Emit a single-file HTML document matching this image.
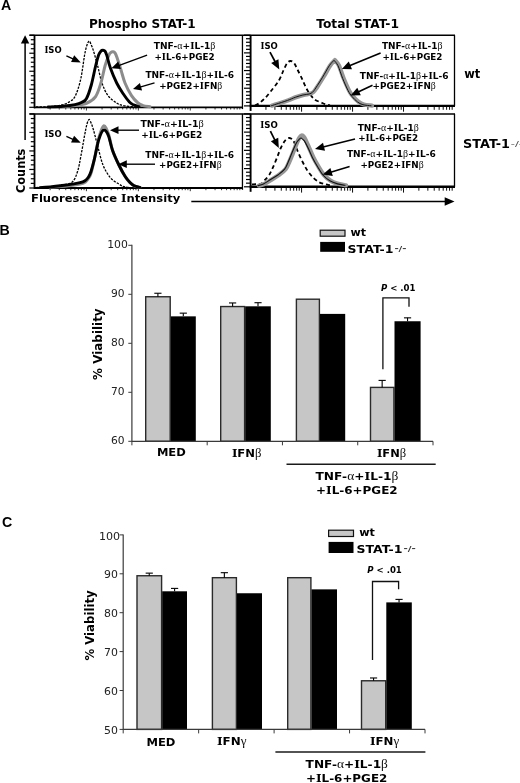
<!DOCTYPE html>
<html><head><meta charset="utf-8"><title>Figure</title>
<style>html,body{margin:0;padding:0;background:#fff}svg{display:block}</style></head>
<body><svg width="520" height="783" viewBox="0 0 520 783">
<rect width="520" height="783" fill="#fff"/>
<text x="0.9" y="10.4" font-family='"Liberation Sans","DejaVu Sans",sans-serif' font-size="14.2" font-weight="bold">A</text>
<text x="-0.6" y="234.8" font-family='"Liberation Sans","DejaVu Sans",sans-serif' font-size="14.2" font-weight="bold">B</text>
<text x="2.1" y="526.9" font-family='"Liberation Sans","DejaVu Sans",sans-serif' font-size="14.2" font-weight="bold">C</text>
<text transform="translate(88.9,27.5) scale(1.0066,1)" font-family='"DejaVu Sans","Liberation Sans",sans-serif' font-size="12" font-weight="bold" fill="#000" xml:space="preserve">Phospho STAT-1</text>
<text transform="translate(316.2,27.5) scale(1.0226,1)" font-family='"DejaVu Sans","Liberation Sans",sans-serif' font-size="12" font-weight="bold" fill="#000" xml:space="preserve">Total STAT-1</text>
<text transform="translate(464.2,77.7) scale(0.9984,1)" font-family='"DejaVu Sans","Liberation Sans",sans-serif' font-size="11.5" font-weight="bold" fill="#000" xml:space="preserve">wt</text>
<text transform="translate(463,148) scale(1.1249,1)" font-family='"DejaVu Sans","Liberation Sans",sans-serif' font-size="11.4" font-weight="bold" fill="#000" xml:space="preserve">STAT-1</text>
<text transform="translate(510.8,146) scale(1.5340,1)" font-family='"DejaVu Sans","Liberation Sans",sans-serif' font-size="7.5" font-weight="normal" fill="#444" xml:space="preserve">-/-</text>
<text transform="translate(31,201.9) scale(1.0422,1)" font-family='"DejaVu Sans","Liberation Sans",sans-serif' font-size="11.1" font-weight="bold" fill="#000" xml:space="preserve">Fluorescence <tspan font-family='"DejaVu Serif","Liberation Serif",serif'>I</tspan>ntensity</text>
<text transform="translate(24.6,193) rotate(-90) scale(0.9853,1)" font-family='"DejaVu Sans","Liberation Sans",sans-serif' font-size="11.5" font-weight="bold" fill="#000">Counts</text>
<line x1="25.1" y1="140" x2="25.1" y2="42.5" stroke="#000" stroke-width="1.5" />
<polygon points="25.1,35.2 29.3,43.5 20.9,43.5" fill="#000"/>
<line x1="191.3" y1="201.5" x2="445.7" y2="201.5" stroke="#000" stroke-width="1.3" />
<polygon points="454.5,201.5 444.7,205.8 444.7,197.2" fill="#000"/>
<line x1="29.5" y1="35.2" x2="455" y2="35.2" stroke="#000" stroke-width="1.5" />
<line x1="34.5" y1="35.2" x2="34.5" y2="108.3" stroke="#000" stroke-width="1.8" />
<line x1="34" y1="107.3" x2="242.7" y2="107.3" stroke="#000" stroke-width="1.8" />
<line x1="242.45" y1="35.2" x2="242.45" y2="109.1" stroke="#000" stroke-width="1.3" />
<line x1="29.3" y1="35.2" x2="34.5" y2="35.2" stroke="#000" stroke-width="1.2" />
<line x1="30.8" y1="39.71" x2="34.5" y2="39.71" stroke="#000" stroke-width="1.2" />
<line x1="30.8" y1="44.21" x2="34.5" y2="44.21" stroke="#000" stroke-width="1.2" />
<line x1="30.8" y1="48.72" x2="34.5" y2="48.72" stroke="#000" stroke-width="1.2" />
<line x1="29.3" y1="53.23" x2="34.5" y2="53.23" stroke="#000" stroke-width="1.2" />
<line x1="30.8" y1="57.73" x2="34.5" y2="57.73" stroke="#000" stroke-width="1.2" />
<line x1="30.8" y1="62.24" x2="34.5" y2="62.24" stroke="#000" stroke-width="1.2" />
<line x1="30.8" y1="66.74" x2="34.5" y2="66.74" stroke="#000" stroke-width="1.2" />
<line x1="29.3" y1="71.25" x2="34.5" y2="71.25" stroke="#000" stroke-width="1.2" />
<line x1="30.8" y1="75.76" x2="34.5" y2="75.76" stroke="#000" stroke-width="1.2" />
<line x1="30.8" y1="80.26" x2="34.5" y2="80.26" stroke="#000" stroke-width="1.2" />
<line x1="30.8" y1="84.77" x2="34.5" y2="84.77" stroke="#000" stroke-width="1.2" />
<line x1="29.3" y1="89.28" x2="34.5" y2="89.28" stroke="#000" stroke-width="1.2" />
<line x1="30.8" y1="93.78" x2="34.5" y2="93.78" stroke="#000" stroke-width="1.2" />
<line x1="30.8" y1="98.29" x2="34.5" y2="98.29" stroke="#000" stroke-width="1.2" />
<line x1="30.8" y1="102.79" x2="34.5" y2="102.79" stroke="#000" stroke-width="1.2" />
<line x1="29.3" y1="107.3" x2="34.5" y2="107.3" stroke="#000" stroke-width="1.2" />
<line x1="50.13" y1="107.3" x2="50.13" y2="109.5" stroke="#000" stroke-width="0.8" />
<line x1="59.27" y1="107.3" x2="59.27" y2="109.5" stroke="#000" stroke-width="0.8" />
<line x1="65.76" y1="107.3" x2="65.76" y2="109.5" stroke="#000" stroke-width="0.8" />
<line x1="70.79" y1="107.3" x2="70.79" y2="109.5" stroke="#000" stroke-width="0.8" />
<line x1="74.91" y1="107.3" x2="74.91" y2="109.5" stroke="#000" stroke-width="0.8" />
<line x1="78.38" y1="107.3" x2="78.38" y2="109.5" stroke="#000" stroke-width="0.8" />
<line x1="81.39" y1="107.3" x2="81.39" y2="109.5" stroke="#000" stroke-width="0.8" />
<line x1="84.05" y1="107.3" x2="84.05" y2="109.5" stroke="#000" stroke-width="0.8" />
<line x1="86.42" y1="107.3" x2="86.42" y2="110.5" stroke="#000" stroke-width="0.8" />
<line x1="102.06" y1="107.3" x2="102.06" y2="109.5" stroke="#000" stroke-width="0.8" />
<line x1="111.2" y1="107.3" x2="111.2" y2="109.5" stroke="#000" stroke-width="0.8" />
<line x1="117.69" y1="107.3" x2="117.69" y2="109.5" stroke="#000" stroke-width="0.8" />
<line x1="122.72" y1="107.3" x2="122.72" y2="109.5" stroke="#000" stroke-width="0.8" />
<line x1="126.83" y1="107.3" x2="126.83" y2="109.5" stroke="#000" stroke-width="0.8" />
<line x1="130.31" y1="107.3" x2="130.31" y2="109.5" stroke="#000" stroke-width="0.8" />
<line x1="133.32" y1="107.3" x2="133.32" y2="109.5" stroke="#000" stroke-width="0.8" />
<line x1="135.97" y1="107.3" x2="135.97" y2="109.5" stroke="#000" stroke-width="0.8" />
<line x1="138.35" y1="107.3" x2="138.35" y2="110.5" stroke="#000" stroke-width="0.8" />
<line x1="153.98" y1="107.3" x2="153.98" y2="109.5" stroke="#000" stroke-width="0.8" />
<line x1="163.12" y1="107.3" x2="163.12" y2="109.5" stroke="#000" stroke-width="0.8" />
<line x1="169.61" y1="107.3" x2="169.61" y2="109.5" stroke="#000" stroke-width="0.8" />
<line x1="174.64" y1="107.3" x2="174.64" y2="109.5" stroke="#000" stroke-width="0.8" />
<line x1="178.76" y1="107.3" x2="178.76" y2="109.5" stroke="#000" stroke-width="0.8" />
<line x1="182.23" y1="107.3" x2="182.23" y2="109.5" stroke="#000" stroke-width="0.8" />
<line x1="185.24" y1="107.3" x2="185.24" y2="109.5" stroke="#000" stroke-width="0.8" />
<line x1="187.9" y1="107.3" x2="187.9" y2="109.5" stroke="#000" stroke-width="0.8" />
<line x1="190.27" y1="107.3" x2="190.27" y2="110.5" stroke="#000" stroke-width="0.8" />
<line x1="205.91" y1="107.3" x2="205.91" y2="109.5" stroke="#000" stroke-width="0.8" />
<line x1="215.05" y1="107.3" x2="215.05" y2="109.5" stroke="#000" stroke-width="0.8" />
<line x1="221.54" y1="107.3" x2="221.54" y2="109.5" stroke="#000" stroke-width="0.8" />
<line x1="226.57" y1="107.3" x2="226.57" y2="109.5" stroke="#000" stroke-width="0.8" />
<line x1="230.68" y1="107.3" x2="230.68" y2="109.5" stroke="#000" stroke-width="0.8" />
<line x1="234.16" y1="107.3" x2="234.16" y2="109.5" stroke="#000" stroke-width="0.8" />
<line x1="237.17" y1="107.3" x2="237.17" y2="109.5" stroke="#000" stroke-width="0.8" />
<line x1="239.82" y1="107.3" x2="239.82" y2="109.5" stroke="#000" stroke-width="0.8" />
<line x1="250.6" y1="35.2" x2="250.6" y2="110.9" stroke="#000" stroke-width="1.9" />
<line x1="249.7" y1="105.9" x2="455" y2="105.9" stroke="#000" stroke-width="2.4" />
<line x1="454.5" y1="35.2" x2="454.5" y2="105.9" stroke="#000" stroke-width="1.3" />
<line x1="244" y1="35.2" x2="250.6" y2="35.2" stroke="#000" stroke-width="1.2" />
<line x1="246" y1="38.73" x2="250.6" y2="38.73" stroke="#000" stroke-width="1.2" />
<line x1="246" y1="42.27" x2="250.6" y2="42.27" stroke="#000" stroke-width="1.2" />
<line x1="246" y1="45.81" x2="250.6" y2="45.81" stroke="#000" stroke-width="1.2" />
<line x1="246" y1="49.34" x2="250.6" y2="49.34" stroke="#000" stroke-width="1.2" />
<line x1="244" y1="52.88" x2="250.6" y2="52.88" stroke="#000" stroke-width="1.2" />
<line x1="246" y1="56.41" x2="250.6" y2="56.41" stroke="#000" stroke-width="1.2" />
<line x1="246" y1="59.95" x2="250.6" y2="59.95" stroke="#000" stroke-width="1.2" />
<line x1="246" y1="63.48" x2="250.6" y2="63.48" stroke="#000" stroke-width="1.2" />
<line x1="246" y1="67.02" x2="250.6" y2="67.02" stroke="#000" stroke-width="1.2" />
<line x1="244" y1="70.55" x2="250.6" y2="70.55" stroke="#000" stroke-width="1.2" />
<line x1="246" y1="74.09" x2="250.6" y2="74.09" stroke="#000" stroke-width="1.2" />
<line x1="246" y1="77.62" x2="250.6" y2="77.62" stroke="#000" stroke-width="1.2" />
<line x1="246" y1="81.16" x2="250.6" y2="81.16" stroke="#000" stroke-width="1.2" />
<line x1="246" y1="84.69" x2="250.6" y2="84.69" stroke="#000" stroke-width="1.2" />
<line x1="244" y1="88.22" x2="250.6" y2="88.22" stroke="#000" stroke-width="1.2" />
<line x1="246" y1="91.76" x2="250.6" y2="91.76" stroke="#000" stroke-width="1.2" />
<line x1="246" y1="95.3" x2="250.6" y2="95.3" stroke="#000" stroke-width="1.2" />
<line x1="246" y1="98.83" x2="250.6" y2="98.83" stroke="#000" stroke-width="1.2" />
<line x1="246" y1="102.36" x2="250.6" y2="102.36" stroke="#000" stroke-width="1.2" />
<line x1="244" y1="105.9" x2="250.6" y2="105.9" stroke="#000" stroke-width="1.2" />
<line x1="265.95" y1="106.4" x2="265.95" y2="109.8" stroke="#000" stroke-width="0.95" />
<line x1="274.92" y1="106.4" x2="274.92" y2="109.8" stroke="#000" stroke-width="0.95" />
<line x1="281.29" y1="106.4" x2="281.29" y2="109.8" stroke="#000" stroke-width="0.95" />
<line x1="286.23" y1="106.4" x2="286.23" y2="109.8" stroke="#000" stroke-width="0.95" />
<line x1="290.27" y1="106.4" x2="290.27" y2="109.8" stroke="#000" stroke-width="0.95" />
<line x1="293.68" y1="106.4" x2="293.68" y2="109.8" stroke="#000" stroke-width="0.95" />
<line x1="296.64" y1="106.4" x2="296.64" y2="109.8" stroke="#000" stroke-width="0.95" />
<line x1="299.24" y1="106.4" x2="299.24" y2="109.8" stroke="#000" stroke-width="0.95" />
<line x1="301.57" y1="106.4" x2="301.57" y2="111.7" stroke="#000" stroke-width="0.95" />
<line x1="316.92" y1="106.4" x2="316.92" y2="109.8" stroke="#000" stroke-width="0.95" />
<line x1="325.9" y1="106.4" x2="325.9" y2="109.8" stroke="#000" stroke-width="0.95" />
<line x1="332.27" y1="106.4" x2="332.27" y2="109.8" stroke="#000" stroke-width="0.95" />
<line x1="337.2" y1="106.4" x2="337.2" y2="109.8" stroke="#000" stroke-width="0.95" />
<line x1="341.24" y1="106.4" x2="341.24" y2="109.8" stroke="#000" stroke-width="0.95" />
<line x1="344.65" y1="106.4" x2="344.65" y2="109.8" stroke="#000" stroke-width="0.95" />
<line x1="347.61" y1="106.4" x2="347.61" y2="109.8" stroke="#000" stroke-width="0.95" />
<line x1="350.22" y1="106.4" x2="350.22" y2="109.8" stroke="#000" stroke-width="0.95" />
<line x1="352.55" y1="106.4" x2="352.55" y2="111.7" stroke="#000" stroke-width="0.95" />
<line x1="367.9" y1="106.4" x2="367.9" y2="109.8" stroke="#000" stroke-width="0.95" />
<line x1="376.87" y1="106.4" x2="376.87" y2="109.8" stroke="#000" stroke-width="0.95" />
<line x1="383.24" y1="106.4" x2="383.24" y2="109.8" stroke="#000" stroke-width="0.95" />
<line x1="388.18" y1="106.4" x2="388.18" y2="109.8" stroke="#000" stroke-width="0.95" />
<line x1="392.22" y1="106.4" x2="392.22" y2="109.8" stroke="#000" stroke-width="0.95" />
<line x1="395.63" y1="106.4" x2="395.63" y2="109.8" stroke="#000" stroke-width="0.95" />
<line x1="398.59" y1="106.4" x2="398.59" y2="109.8" stroke="#000" stroke-width="0.95" />
<line x1="401.19" y1="106.4" x2="401.19" y2="109.8" stroke="#000" stroke-width="0.95" />
<line x1="403.52" y1="106.4" x2="403.52" y2="111.7" stroke="#000" stroke-width="0.95" />
<line x1="418.87" y1="106.4" x2="418.87" y2="109.8" stroke="#000" stroke-width="0.95" />
<line x1="427.85" y1="106.4" x2="427.85" y2="109.8" stroke="#000" stroke-width="0.95" />
<line x1="434.22" y1="106.4" x2="434.22" y2="109.8" stroke="#000" stroke-width="0.95" />
<line x1="439.15" y1="106.4" x2="439.15" y2="109.8" stroke="#000" stroke-width="0.95" />
<line x1="443.19" y1="106.4" x2="443.19" y2="109.8" stroke="#000" stroke-width="0.95" />
<line x1="446.6" y1="106.4" x2="446.6" y2="109.8" stroke="#000" stroke-width="0.95" />
<line x1="449.56" y1="106.4" x2="449.56" y2="109.8" stroke="#000" stroke-width="0.95" />
<line x1="452.17" y1="106.4" x2="452.17" y2="109.8" stroke="#000" stroke-width="0.95" />
<line x1="29.5" y1="113.9" x2="455" y2="113.9" stroke="#000" stroke-width="1.5" />
<line x1="34.5" y1="113.9" x2="34.5" y2="189" stroke="#000" stroke-width="1.8" />
<line x1="34" y1="188" x2="242.7" y2="188" stroke="#000" stroke-width="1.8" />
<line x1="242.45" y1="113.9" x2="242.45" y2="189.8" stroke="#000" stroke-width="1.3" />
<line x1="29.3" y1="113.9" x2="34.5" y2="113.9" stroke="#000" stroke-width="1.2" />
<line x1="30.8" y1="118.53" x2="34.5" y2="118.53" stroke="#000" stroke-width="1.2" />
<line x1="30.8" y1="123.16" x2="34.5" y2="123.16" stroke="#000" stroke-width="1.2" />
<line x1="30.8" y1="127.79" x2="34.5" y2="127.79" stroke="#000" stroke-width="1.2" />
<line x1="29.3" y1="132.43" x2="34.5" y2="132.43" stroke="#000" stroke-width="1.2" />
<line x1="30.8" y1="137.06" x2="34.5" y2="137.06" stroke="#000" stroke-width="1.2" />
<line x1="30.8" y1="141.69" x2="34.5" y2="141.69" stroke="#000" stroke-width="1.2" />
<line x1="30.8" y1="146.32" x2="34.5" y2="146.32" stroke="#000" stroke-width="1.2" />
<line x1="29.3" y1="150.95" x2="34.5" y2="150.95" stroke="#000" stroke-width="1.2" />
<line x1="30.8" y1="155.58" x2="34.5" y2="155.58" stroke="#000" stroke-width="1.2" />
<line x1="30.8" y1="160.21" x2="34.5" y2="160.21" stroke="#000" stroke-width="1.2" />
<line x1="30.8" y1="164.84" x2="34.5" y2="164.84" stroke="#000" stroke-width="1.2" />
<line x1="29.3" y1="169.47" x2="34.5" y2="169.47" stroke="#000" stroke-width="1.2" />
<line x1="30.8" y1="174.11" x2="34.5" y2="174.11" stroke="#000" stroke-width="1.2" />
<line x1="30.8" y1="178.74" x2="34.5" y2="178.74" stroke="#000" stroke-width="1.2" />
<line x1="30.8" y1="183.37" x2="34.5" y2="183.37" stroke="#000" stroke-width="1.2" />
<line x1="29.3" y1="188" x2="34.5" y2="188" stroke="#000" stroke-width="1.2" />
<line x1="50.13" y1="188" x2="50.13" y2="190.2" stroke="#000" stroke-width="0.8" />
<line x1="59.27" y1="188" x2="59.27" y2="190.2" stroke="#000" stroke-width="0.8" />
<line x1="65.76" y1="188" x2="65.76" y2="190.2" stroke="#000" stroke-width="0.8" />
<line x1="70.79" y1="188" x2="70.79" y2="190.2" stroke="#000" stroke-width="0.8" />
<line x1="74.91" y1="188" x2="74.91" y2="190.2" stroke="#000" stroke-width="0.8" />
<line x1="78.38" y1="188" x2="78.38" y2="190.2" stroke="#000" stroke-width="0.8" />
<line x1="81.39" y1="188" x2="81.39" y2="190.2" stroke="#000" stroke-width="0.8" />
<line x1="84.05" y1="188" x2="84.05" y2="190.2" stroke="#000" stroke-width="0.8" />
<line x1="86.42" y1="188" x2="86.42" y2="191.2" stroke="#000" stroke-width="0.8" />
<line x1="102.06" y1="188" x2="102.06" y2="190.2" stroke="#000" stroke-width="0.8" />
<line x1="111.2" y1="188" x2="111.2" y2="190.2" stroke="#000" stroke-width="0.8" />
<line x1="117.69" y1="188" x2="117.69" y2="190.2" stroke="#000" stroke-width="0.8" />
<line x1="122.72" y1="188" x2="122.72" y2="190.2" stroke="#000" stroke-width="0.8" />
<line x1="126.83" y1="188" x2="126.83" y2="190.2" stroke="#000" stroke-width="0.8" />
<line x1="130.31" y1="188" x2="130.31" y2="190.2" stroke="#000" stroke-width="0.8" />
<line x1="133.32" y1="188" x2="133.32" y2="190.2" stroke="#000" stroke-width="0.8" />
<line x1="135.97" y1="188" x2="135.97" y2="190.2" stroke="#000" stroke-width="0.8" />
<line x1="138.35" y1="188" x2="138.35" y2="191.2" stroke="#000" stroke-width="0.8" />
<line x1="153.98" y1="188" x2="153.98" y2="190.2" stroke="#000" stroke-width="0.8" />
<line x1="163.12" y1="188" x2="163.12" y2="190.2" stroke="#000" stroke-width="0.8" />
<line x1="169.61" y1="188" x2="169.61" y2="190.2" stroke="#000" stroke-width="0.8" />
<line x1="174.64" y1="188" x2="174.64" y2="190.2" stroke="#000" stroke-width="0.8" />
<line x1="178.76" y1="188" x2="178.76" y2="190.2" stroke="#000" stroke-width="0.8" />
<line x1="182.23" y1="188" x2="182.23" y2="190.2" stroke="#000" stroke-width="0.8" />
<line x1="185.24" y1="188" x2="185.24" y2="190.2" stroke="#000" stroke-width="0.8" />
<line x1="187.9" y1="188" x2="187.9" y2="190.2" stroke="#000" stroke-width="0.8" />
<line x1="190.27" y1="188" x2="190.27" y2="191.2" stroke="#000" stroke-width="0.8" />
<line x1="205.91" y1="188" x2="205.91" y2="190.2" stroke="#000" stroke-width="0.8" />
<line x1="215.05" y1="188" x2="215.05" y2="190.2" stroke="#000" stroke-width="0.8" />
<line x1="221.54" y1="188" x2="221.54" y2="190.2" stroke="#000" stroke-width="0.8" />
<line x1="226.57" y1="188" x2="226.57" y2="190.2" stroke="#000" stroke-width="0.8" />
<line x1="230.68" y1="188" x2="230.68" y2="190.2" stroke="#000" stroke-width="0.8" />
<line x1="234.16" y1="188" x2="234.16" y2="190.2" stroke="#000" stroke-width="0.8" />
<line x1="237.17" y1="188" x2="237.17" y2="190.2" stroke="#000" stroke-width="0.8" />
<line x1="239.82" y1="188" x2="239.82" y2="190.2" stroke="#000" stroke-width="0.8" />
<line x1="250.6" y1="113.9" x2="250.6" y2="191.8" stroke="#000" stroke-width="1.9" />
<line x1="249.7" y1="186.8" x2="455" y2="186.8" stroke="#000" stroke-width="2.4" />
<line x1="454.5" y1="113.9" x2="454.5" y2="186.8" stroke="#000" stroke-width="1.3" />
<line x1="244" y1="113.9" x2="250.6" y2="113.9" stroke="#000" stroke-width="1.2" />
<line x1="246" y1="117.55" x2="250.6" y2="117.55" stroke="#000" stroke-width="1.2" />
<line x1="246" y1="121.19" x2="250.6" y2="121.19" stroke="#000" stroke-width="1.2" />
<line x1="246" y1="124.84" x2="250.6" y2="124.84" stroke="#000" stroke-width="1.2" />
<line x1="246" y1="128.48" x2="250.6" y2="128.48" stroke="#000" stroke-width="1.2" />
<line x1="244" y1="132.12" x2="250.6" y2="132.12" stroke="#000" stroke-width="1.2" />
<line x1="246" y1="135.77" x2="250.6" y2="135.77" stroke="#000" stroke-width="1.2" />
<line x1="246" y1="139.42" x2="250.6" y2="139.42" stroke="#000" stroke-width="1.2" />
<line x1="246" y1="143.06" x2="250.6" y2="143.06" stroke="#000" stroke-width="1.2" />
<line x1="246" y1="146.71" x2="250.6" y2="146.71" stroke="#000" stroke-width="1.2" />
<line x1="244" y1="150.35" x2="250.6" y2="150.35" stroke="#000" stroke-width="1.2" />
<line x1="246" y1="154" x2="250.6" y2="154" stroke="#000" stroke-width="1.2" />
<line x1="246" y1="157.64" x2="250.6" y2="157.64" stroke="#000" stroke-width="1.2" />
<line x1="246" y1="161.29" x2="250.6" y2="161.29" stroke="#000" stroke-width="1.2" />
<line x1="246" y1="164.93" x2="250.6" y2="164.93" stroke="#000" stroke-width="1.2" />
<line x1="244" y1="168.57" x2="250.6" y2="168.57" stroke="#000" stroke-width="1.2" />
<line x1="246" y1="172.22" x2="250.6" y2="172.22" stroke="#000" stroke-width="1.2" />
<line x1="246" y1="175.87" x2="250.6" y2="175.87" stroke="#000" stroke-width="1.2" />
<line x1="246" y1="179.51" x2="250.6" y2="179.51" stroke="#000" stroke-width="1.2" />
<line x1="246" y1="183.16" x2="250.6" y2="183.16" stroke="#000" stroke-width="1.2" />
<line x1="244" y1="186.8" x2="250.6" y2="186.8" stroke="#000" stroke-width="1.2" />
<line x1="265.95" y1="187.3" x2="265.95" y2="190.7" stroke="#000" stroke-width="0.95" />
<line x1="274.92" y1="187.3" x2="274.92" y2="190.7" stroke="#000" stroke-width="0.95" />
<line x1="281.29" y1="187.3" x2="281.29" y2="190.7" stroke="#000" stroke-width="0.95" />
<line x1="286.23" y1="187.3" x2="286.23" y2="190.7" stroke="#000" stroke-width="0.95" />
<line x1="290.27" y1="187.3" x2="290.27" y2="190.7" stroke="#000" stroke-width="0.95" />
<line x1="293.68" y1="187.3" x2="293.68" y2="190.7" stroke="#000" stroke-width="0.95" />
<line x1="296.64" y1="187.3" x2="296.64" y2="190.7" stroke="#000" stroke-width="0.95" />
<line x1="299.24" y1="187.3" x2="299.24" y2="190.7" stroke="#000" stroke-width="0.95" />
<line x1="301.57" y1="187.3" x2="301.57" y2="192.6" stroke="#000" stroke-width="0.95" />
<line x1="316.92" y1="187.3" x2="316.92" y2="190.7" stroke="#000" stroke-width="0.95" />
<line x1="325.9" y1="187.3" x2="325.9" y2="190.7" stroke="#000" stroke-width="0.95" />
<line x1="332.27" y1="187.3" x2="332.27" y2="190.7" stroke="#000" stroke-width="0.95" />
<line x1="337.2" y1="187.3" x2="337.2" y2="190.7" stroke="#000" stroke-width="0.95" />
<line x1="341.24" y1="187.3" x2="341.24" y2="190.7" stroke="#000" stroke-width="0.95" />
<line x1="344.65" y1="187.3" x2="344.65" y2="190.7" stroke="#000" stroke-width="0.95" />
<line x1="347.61" y1="187.3" x2="347.61" y2="190.7" stroke="#000" stroke-width="0.95" />
<line x1="350.22" y1="187.3" x2="350.22" y2="190.7" stroke="#000" stroke-width="0.95" />
<line x1="352.55" y1="187.3" x2="352.55" y2="192.6" stroke="#000" stroke-width="0.95" />
<line x1="367.9" y1="187.3" x2="367.9" y2="190.7" stroke="#000" stroke-width="0.95" />
<line x1="376.87" y1="187.3" x2="376.87" y2="190.7" stroke="#000" stroke-width="0.95" />
<line x1="383.24" y1="187.3" x2="383.24" y2="190.7" stroke="#000" stroke-width="0.95" />
<line x1="388.18" y1="187.3" x2="388.18" y2="190.7" stroke="#000" stroke-width="0.95" />
<line x1="392.22" y1="187.3" x2="392.22" y2="190.7" stroke="#000" stroke-width="0.95" />
<line x1="395.63" y1="187.3" x2="395.63" y2="190.7" stroke="#000" stroke-width="0.95" />
<line x1="398.59" y1="187.3" x2="398.59" y2="190.7" stroke="#000" stroke-width="0.95" />
<line x1="401.19" y1="187.3" x2="401.19" y2="190.7" stroke="#000" stroke-width="0.95" />
<line x1="403.52" y1="187.3" x2="403.52" y2="192.6" stroke="#000" stroke-width="0.95" />
<line x1="418.87" y1="187.3" x2="418.87" y2="190.7" stroke="#000" stroke-width="0.95" />
<line x1="427.85" y1="187.3" x2="427.85" y2="190.7" stroke="#000" stroke-width="0.95" />
<line x1="434.22" y1="187.3" x2="434.22" y2="190.7" stroke="#000" stroke-width="0.95" />
<line x1="439.15" y1="187.3" x2="439.15" y2="190.7" stroke="#000" stroke-width="0.95" />
<line x1="443.19" y1="187.3" x2="443.19" y2="190.7" stroke="#000" stroke-width="0.95" />
<line x1="446.6" y1="187.3" x2="446.6" y2="190.7" stroke="#000" stroke-width="0.95" />
<line x1="449.56" y1="187.3" x2="449.56" y2="190.7" stroke="#000" stroke-width="0.95" />
<line x1="452.17" y1="187.3" x2="452.17" y2="190.7" stroke="#000" stroke-width="0.95" />
<path d="M36,107C38.33,106.93 45.72,106.93 50,106.6C54.28,106.27 58.37,105.85 61.7,105C65.03,104.15 67.7,103.07 70,101.5C72.3,99.93 73.7,99.4 75.5,95.6C77.3,91.8 79.28,85.47 80.8,78.7C82.32,71.93 83.57,60.62 84.6,55C85.63,49.38 86.23,47.33 87,45C87.77,42.67 88.48,41 89.2,41C89.92,41 90.58,43.33 91.3,45C92.02,46.67 92.43,47.5 93.5,51C94.57,54.5 96.28,60.67 97.7,66C99.12,71.33 100.28,78.07 102,83C103.72,87.93 105.55,92.27 108,95.6C110.45,98.93 114.2,101.35 116.7,103C119.2,104.65 119.95,104.83 123,105.5C126.05,106.17 133,106.75 135,107" fill="none" stroke="#000" stroke-width="1.3" stroke-linejoin="round" stroke-linecap="butt" stroke-dasharray="2.4 1.2"/>
<path d="M60,107C62.5,106.75 70.5,106.17 75,105.5C79.5,104.83 83.57,104.48 87,103C90.43,101.52 93.28,99.93 95.6,96.6C97.92,93.27 99.33,88.1 100.9,83C102.47,77.9 103.68,70.6 105,66C106.32,61.4 107.8,57.67 108.8,55.4C109.8,53.13 110.3,53 111,52.4C111.7,51.8 112.33,51.73 113,51.8C113.67,51.87 114.33,51.85 115,52.8C115.67,53.75 116,54.63 117,57.5C118,60.37 119.67,65.75 121,70C122.33,74.25 123.25,78.73 125,83C126.75,87.27 129.33,92.27 131.5,95.6C133.67,98.93 136.08,101.33 138,103C139.92,104.67 141,104.97 143,105.6C145,106.23 148.83,106.6 150,106.8" fill="none" stroke="#8c8c8c" stroke-width="3" stroke-linejoin="round" stroke-linecap="round"/>
<path d="M48,107C50.5,106.87 58.5,106.6 63,106.2C67.5,105.8 71.83,105.27 75,104.6C78.17,103.93 80.08,103.22 82,102.2C83.92,101.18 84.95,101.37 86.5,98.5C88.05,95.63 89.78,90.42 91.3,85C92.82,79.58 94.38,71 95.6,66C96.82,61 97.7,57.5 98.6,55C99.5,52.5 100.27,51.78 101,51C101.73,50.22 102.33,50.27 103,50.3C103.67,50.33 104.37,50.35 105,51.2C105.63,52.05 105.9,52.6 106.8,55.4C107.7,58.2 108.75,63.4 110.4,68C112.05,72.6 114.6,78.75 116.7,83C118.8,87.25 120.88,90.33 123,93.5C125.12,96.67 127.65,100.12 129.4,102C131.15,103.88 131.9,104.03 133.5,104.8C135.1,105.57 138.08,106.3 139,106.6" fill="none" stroke="#000" stroke-width="2.9" stroke-linejoin="round" stroke-linecap="round"/>
<path d="M36,187.6C38.5,187.47 46.67,187.23 51,186.8C55.33,186.37 58.45,185.8 62,185C65.55,184.2 69.7,184.28 72.3,182C74.9,179.72 76.18,175.55 77.6,171.3C79.02,167.05 79.63,162.48 80.8,156.5C81.97,150.52 83.57,140.82 84.6,135.4C85.63,129.98 86.23,126.65 87,124C87.77,121.35 88.48,119.58 89.2,119.5C89.92,119.42 90.58,121.75 91.3,123.5C92.02,125.25 92.43,126.25 93.5,130C94.57,133.75 96.12,140.17 97.7,146C99.28,151.83 100.88,159.72 103,165C105.12,170.28 107.75,174.53 110.4,177.7C113.05,180.87 116.47,182.45 118.9,184C121.33,185.55 122.32,186.37 125,187C127.68,187.63 133.33,187.67 135,187.8" fill="none" stroke="#000" stroke-width="1.3" stroke-linejoin="round" stroke-linecap="butt" stroke-dasharray="2.4 1.2"/>
<path d="M50,187.5C53.5,187.15 66,185.98 71,185.4C76,184.82 77.58,184.57 80,184C82.42,183.43 84,183.07 85.5,182C87,180.93 88.02,179.27 89,177.6C89.98,175.93 90.48,175.15 91.4,172C92.32,168.85 93.27,164.37 94.5,158.7C95.73,153.03 97.28,143.47 98.8,138C100.32,132.53 101.98,126.57 103.6,125.9C105.22,125.23 107.02,129.95 108.5,134C109.98,138.05 110.77,145.03 112.5,150.2C114.23,155.37 116.78,160.6 118.9,165C121.02,169.4 123.35,173.67 125.2,176.6C127.05,179.53 128.5,181.07 130,182.6C131.5,184.13 132.53,185 134.2,185.8C135.87,186.6 139.03,187.13 140,187.4" fill="none" stroke="#8c8c8c" stroke-width="3" stroke-linejoin="round" stroke-linecap="round"/>
<path d="M40,187.6C42,187.45 48.33,187.05 52,186.7C55.67,186.35 58.67,185.93 62,185.5C65.33,185.07 69,184.57 72,184.1C75,183.63 77.83,183.27 80,182.7C82.17,182.13 83.58,181.65 85,180.7C86.42,179.75 87.5,178.53 88.5,177C89.5,175.47 90,174.55 91,171.5C92,168.45 93.2,164.02 94.5,158.7C95.8,153.38 97.28,144.38 98.8,139.6C100.32,134.82 102.02,130.7 103.6,130C105.18,129.3 106.82,132.03 108.3,135.4C109.78,138.77 110.73,145.27 112.5,150.2C114.27,155.13 116.78,160.6 118.9,165C121.02,169.4 123.35,173.67 125.2,176.6C127.05,179.53 128.5,181.07 130,182.6C131.5,184.13 132.53,185 134.2,185.8C135.87,186.6 139.03,187.13 140,187.4" fill="none" stroke="#000" stroke-width="2.9" stroke-linejoin="round" stroke-linecap="round"/>
<path d="M255,105.3C255.7,104.95 257.47,104.47 259.2,103.2C260.93,101.93 263.1,100.15 265.4,97.7C267.7,95.25 270.7,91.45 273,88.5C275.3,85.55 277.53,82.83 279.2,80C280.87,77.17 281.83,74.07 283,71.5C284.17,68.93 285.37,66.15 286.2,64.6C287.03,63.05 287.32,62.8 288,62.2C288.68,61.6 289.53,61.1 290.3,61C291.07,60.9 291.88,61.13 292.6,61.6C293.32,62.07 293.75,62.4 294.6,63.8C295.45,65.2 296.55,67.68 297.7,70C298.85,72.32 300.35,75.27 301.5,77.7C302.65,80.13 303.57,82.42 304.6,84.6C305.63,86.78 306.55,88.87 307.7,90.8C308.85,92.73 310.22,94.67 311.5,96.2C312.78,97.73 313.85,98.98 315.4,100C316.95,101.02 319.13,101.6 320.8,102.3C322.47,103 323.87,103.7 325.4,104.2C326.93,104.7 329.23,105.12 330,105.3" fill="none" stroke="#000" stroke-width="1.8" stroke-linejoin="round" stroke-linecap="butt" stroke-dasharray="4 3"/>
<path d="M272,105.6C272.83,105.33 274.25,104.9 277,104C279.75,103.1 285.3,101.35 288.5,100.2C291.7,99.05 293.65,98 296.2,97.1C298.75,96.2 301.5,95.35 303.8,94.8C306.1,94.25 308.38,94.27 310,93.8C311.62,93.33 312.38,93.02 313.5,92C314.62,90.98 315.03,90.2 316.7,87.7C318.37,85.2 321.25,80.7 323.5,77C325.75,73.3 328.3,68.32 330.2,65.5C332.1,62.68 334.12,61 334.9,60.1C335.57,61 337.45,62.47 338.9,65.5C340.35,68.53 341.92,74.15 343.6,78.3C345.28,82.45 347.43,87.38 349,90.4C350.57,93.42 351.42,94.5 353,96.4C354.58,98.3 356.7,100.45 358.5,101.8C360.3,103.15 361.55,103.87 363.8,104.5C366.05,105.13 370.63,105.42 372,105.6" fill="none" stroke="#969696" stroke-width="4.3" stroke-linejoin="round" stroke-linecap="round"/>
<path d="M271.1,105.8C271.93,105.53 273.35,105.1 276.1,104.2C278.85,103.3 284.4,101.55 287.6,100.4C290.8,99.25 292.75,98.2 295.3,97.3C297.85,96.4 300.6,95.55 302.9,95C305.2,94.45 307.48,94.47 309.1,94C310.72,93.53 311.48,93.22 312.6,92.2C313.72,91.18 314.13,90.4 315.8,87.9C317.47,85.4 320.35,80.9 322.6,77.2C324.85,73.5 327.4,68.52 329.3,65.7C331.2,62.88 333.22,61.2 334,60.3C334.67,61.2 336.55,62.67 338,65.7C339.45,68.73 341.02,74.35 342.7,78.5C344.38,82.65 346.53,87.58 348.1,90.6C349.67,93.62 350.52,94.7 352.1,96.6C353.68,98.5 355.8,100.65 357.6,102C359.4,103.35 360.65,104.07 362.9,104.7C365.15,105.33 369.73,105.62 371.1,105.8" fill="none" stroke="#111" stroke-width="1" stroke-linejoin="round" stroke-linecap="round"/>
<path d="M252,184.3C252.83,184.27 255.42,184.22 257,184.1C258.58,183.98 260.27,184.18 261.5,183.6C262.73,183.02 263.12,182.03 264.4,180.6C265.68,179.17 267.77,177.22 269.2,175C270.63,172.78 271.7,170.18 273,167.3C274.3,164.42 275.7,160.92 277,157.7C278.3,154.48 279.53,150.73 280.8,148C282.07,145.27 283.57,142.83 284.6,141.3C285.63,139.77 286.2,139.35 287,138.8C287.8,138.25 288.57,137.93 289.4,138C290.23,138.07 291.2,138.48 292,139.2C292.8,139.92 293.2,140.17 294.2,142.3C295.2,144.43 296.55,148.63 298,152C299.45,155.37 301.28,159.33 302.9,162.5C304.52,165.67 305.93,168.43 307.7,171C309.47,173.57 311.58,176.02 313.5,177.9C315.42,179.78 317.28,181.25 319.2,182.3C321.12,183.35 323.2,183.72 325,184.2C326.8,184.68 329.17,185.03 330,185.2" fill="none" stroke="#000" stroke-width="1.8" stroke-linejoin="round" stroke-linecap="butt" stroke-dasharray="4 3"/>
<path d="M259,185.6C259.9,185.32 262.37,184.87 264.4,183.9C266.43,182.93 268.8,181.28 271.2,179.8C273.6,178.32 276.4,176.77 278.8,175C281.2,173.23 283.83,171.45 285.6,169.2C287.37,166.95 288.12,164.37 289.4,161.5C290.68,158.63 292.02,155.2 293.3,152C294.58,148.8 296.02,144.77 297.1,142.3C298.18,139.83 299,138.35 299.8,137.2C300.6,136.05 301.2,135.43 301.9,135.4C302.6,135.37 303.35,136.17 304,137C304.65,137.83 304.87,138.4 305.8,140.4C306.73,142.4 308.32,146.12 309.6,149C310.88,151.88 312.05,154.82 313.5,157.7C314.95,160.58 316.55,163.42 318.3,166.3C320.05,169.18 321.92,172.58 324,175C326.08,177.42 328.38,179.32 330.8,180.8C333.22,182.28 335.97,183.15 338.5,183.9C341.03,184.65 344.75,185.07 346,185.3" fill="none" stroke="#969696" stroke-width="4.4" stroke-linejoin="round" stroke-linecap="round"/>
<path d="M258,185.6C258.9,185.32 261.37,184.87 263.4,183.9C265.43,182.93 267.8,181.28 270.2,179.8C272.6,178.32 275.4,176.77 277.8,175C280.2,173.23 282.83,171.45 284.6,169.2C286.37,166.95 287.12,164.37 288.4,161.5C289.68,158.63 291.02,155 292.3,152C293.58,149 295.02,145.53 296.1,143.5C297.18,141.47 298,140.72 298.8,139.8C299.6,138.88 300.2,138.03 300.9,138C301.6,137.97 302.35,139 303,139.6C303.65,140.2 303.87,140.03 304.8,141.6C305.73,143.17 307.32,146.32 308.6,149C309.88,151.68 311.05,154.82 312.5,157.7C313.95,160.58 315.55,163.42 317.3,166.3C319.05,169.18 320.92,172.58 323,175C325.08,177.42 327.38,179.32 329.8,180.8C332.22,182.28 334.97,183.15 337.5,183.9C340.03,184.65 343.75,185.07 345,185.3" fill="none" stroke="#111" stroke-width="1.1" stroke-linejoin="round" stroke-linecap="round"/>
<text transform="translate(153.8,48.8) scale(1.0589,1)" font-family='"DejaVu Sans","Liberation Sans",sans-serif' font-size="8.6" font-weight="bold" fill="#000" xml:space="preserve">TNF-<tspan font-family='"Liberation Serif","DejaVu Serif",serif' font-weight="normal" font-size="9.46" fill="#111">α</tspan>+<tspan font-family='"DejaVu Serif","Liberation Serif",serif'>I</tspan>L-1<tspan font-family='"Liberation Serif","DejaVu Serif",serif' font-weight="normal" font-size="9.46" fill="#111">β</tspan></text>
<text transform="translate(154.4,59.6) scale(1.0260,1)" font-family='"DejaVu Sans","Liberation Sans",sans-serif' font-size="8.6" font-weight="bold" fill="#000" xml:space="preserve">+<tspan font-family='"DejaVu Serif","Liberation Serif",serif'>I</tspan>L-6+PGE2</text>
<text transform="translate(145.4,78.3) scale(1.0505,1)" font-family='"DejaVu Sans","Liberation Sans",sans-serif' font-size="8.6" font-weight="bold" fill="#000" xml:space="preserve">TNF-<tspan font-family='"Liberation Serif","DejaVu Serif",serif' font-weight="normal" font-size="9.46" fill="#111">α</tspan>+<tspan font-family='"DejaVu Serif","Liberation Serif",serif'>I</tspan>L-1<tspan font-family='"Liberation Serif","DejaVu Serif",serif' font-weight="normal" font-size="9.46" fill="#111">β</tspan>+<tspan font-family='"DejaVu Serif","Liberation Serif",serif'>I</tspan>L-6</text>
<text transform="translate(159.2,88.9) scale(1.0255,1)" font-family='"DejaVu Sans","Liberation Sans",sans-serif' font-size="8.6" font-weight="bold" fill="#000" xml:space="preserve">+PGE2+<tspan font-family='"DejaVu Serif","Liberation Serif",serif'>I</tspan>FN<tspan font-family='"Liberation Serif","DejaVu Serif",serif' font-weight="normal" font-size="9.46" fill="#111">β</tspan></text>
<text transform="translate(381.9,49.4) scale(1.0401,1)" font-family='"DejaVu Sans","Liberation Sans",sans-serif' font-size="8.6" font-weight="bold" fill="#000" xml:space="preserve">TNF-<tspan font-family='"Liberation Serif","DejaVu Serif",serif' font-weight="normal" font-size="9.46" fill="#111">α</tspan>+<tspan font-family='"DejaVu Serif","Liberation Serif",serif'>I</tspan>L-1<tspan font-family='"Liberation Serif","DejaVu Serif",serif' font-weight="normal" font-size="9.46" fill="#111">β</tspan></text>
<text transform="translate(382.5,59.7) scale(1.0226,1)" font-family='"DejaVu Sans","Liberation Sans",sans-serif' font-size="8.6" font-weight="bold" fill="#000" xml:space="preserve">+<tspan font-family='"DejaVu Serif","Liberation Serif",serif'>I</tspan>L-6+PGE2</text>
<text transform="translate(359.8,78.5) scale(1.0517,1)" font-family='"DejaVu Sans","Liberation Sans",sans-serif' font-size="8.6" font-weight="bold" fill="#000" xml:space="preserve">TNF-<tspan font-family='"Liberation Serif","DejaVu Serif",serif' font-weight="normal" font-size="9.46" fill="#111">α</tspan>+<tspan font-family='"DejaVu Serif","Liberation Serif",serif'>I</tspan>L-1<tspan font-family='"Liberation Serif","DejaVu Serif",serif' font-weight="normal" font-size="9.46" fill="#111">β</tspan>+<tspan font-family='"DejaVu Serif","Liberation Serif",serif'>I</tspan>L-6</text>
<text transform="translate(372.5,89.2) scale(1.0287,1)" font-family='"DejaVu Sans","Liberation Sans",sans-serif' font-size="8.6" font-weight="bold" fill="#000" xml:space="preserve">+PGE2+<tspan font-family='"DejaVu Serif","Liberation Serif",serif'>I</tspan>FN<tspan font-family='"Liberation Serif","DejaVu Serif",serif' font-weight="normal" font-size="9.46" fill="#111">β</tspan></text>
<text transform="translate(140.4,127.3) scale(1.0881,1)" font-family='"DejaVu Sans","Liberation Sans",sans-serif' font-size="8.6" font-weight="bold" fill="#000" xml:space="preserve">TNF-<tspan font-family='"Liberation Serif","DejaVu Serif",serif' font-weight="normal" font-size="9.46" fill="#111">α</tspan>+<tspan font-family='"DejaVu Serif","Liberation Serif",serif'>I</tspan>L-1<tspan font-family='"Liberation Serif","DejaVu Serif",serif' font-weight="normal" font-size="9.46" fill="#111">β</tspan></text>
<text transform="translate(141.2,138.2) scale(1.0431,1)" font-family='"DejaVu Sans","Liberation Sans",sans-serif' font-size="8.6" font-weight="bold" fill="#000" xml:space="preserve">+<tspan font-family='"DejaVu Serif","Liberation Serif",serif'>I</tspan>L-6+PGE2</text>
<text transform="translate(145.3,157.7) scale(1.0505,1)" font-family='"DejaVu Sans","Liberation Sans",sans-serif' font-size="8.6" font-weight="bold" fill="#000" xml:space="preserve">TNF-<tspan font-family='"Liberation Serif","DejaVu Serif",serif' font-weight="normal" font-size="9.46" fill="#111">α</tspan>+<tspan font-family='"DejaVu Serif","Liberation Serif",serif'>I</tspan>L-1<tspan font-family='"Liberation Serif","DejaVu Serif",serif' font-weight="normal" font-size="9.46" fill="#111">β</tspan>+<tspan font-family='"DejaVu Serif","Liberation Serif",serif'>I</tspan>L-6</text>
<text transform="translate(159.1,167.7) scale(1.0141,1)" font-family='"DejaVu Sans","Liberation Sans",sans-serif' font-size="8.6" font-weight="bold" fill="#000" xml:space="preserve">+PGE2+<tspan font-family='"DejaVu Serif","Liberation Serif",serif'>I</tspan>FN<tspan font-family='"Liberation Serif","DejaVu Serif",serif' font-weight="normal" font-size="9.46" fill="#111">β</tspan></text>
<text transform="translate(357.7,131) scale(1.0486,1)" font-family='"DejaVu Sans","Liberation Sans",sans-serif' font-size="8.6" font-weight="bold" fill="#000" xml:space="preserve">TNF-<tspan font-family='"Liberation Serif","DejaVu Serif",serif' font-weight="normal" font-size="9.46" fill="#111">α</tspan>+<tspan font-family='"DejaVu Serif","Liberation Serif",serif'>I</tspan>L-1<tspan font-family='"Liberation Serif","DejaVu Serif",serif' font-weight="normal" font-size="9.46" fill="#111">β</tspan></text>
<text transform="translate(358.2,141) scale(1.0243,1)" font-family='"DejaVu Sans","Liberation Sans",sans-serif' font-size="8.6" font-weight="bold" fill="#000" xml:space="preserve">+<tspan font-family='"DejaVu Serif","Liberation Serif",serif'>I</tspan>L-6+PGE2</text>
<text transform="translate(346.9,157.1) scale(1.0517,1)" font-family='"DejaVu Sans","Liberation Sans",sans-serif' font-size="8.6" font-weight="bold" fill="#000" xml:space="preserve">TNF-<tspan font-family='"Liberation Serif","DejaVu Serif",serif' font-weight="normal" font-size="9.46" fill="#111">α</tspan>+<tspan font-family='"DejaVu Serif","Liberation Serif",serif'>I</tspan>L-1<tspan font-family='"Liberation Serif","DejaVu Serif",serif' font-weight="normal" font-size="9.46" fill="#111">β</tspan>+<tspan font-family='"DejaVu Serif","Liberation Serif",serif'>I</tspan>L-6</text>
<text transform="translate(360.4,167.9) scale(1.0287,1)" font-family='"DejaVu Sans","Liberation Sans",sans-serif' font-size="8.6" font-weight="bold" fill="#000" xml:space="preserve">+PGE2+<tspan font-family='"DejaVu Serif","Liberation Serif",serif'>I</tspan>FN<tspan font-family='"Liberation Serif","DejaVu Serif",serif' font-weight="normal" font-size="9.46" fill="#111">β</tspan></text>
<text transform="translate(44.4,53) scale(1.0223,1)" font-family='"DejaVu Sans","Liberation Sans",sans-serif' font-size="8.3" font-weight="bold" fill="#000" xml:space="preserve"><tspan font-family='"DejaVu Serif","Liberation Serif",serif'>I</tspan>SO</text>
<text transform="translate(44.4,137) scale(1.0223,1)" font-family='"DejaVu Sans","Liberation Sans",sans-serif' font-size="8.3" font-weight="bold" fill="#000" xml:space="preserve"><tspan font-family='"DejaVu Serif","Liberation Serif",serif'>I</tspan>SO</text>
<text transform="translate(260.4,48.8) scale(1.0283,1)" font-family='"DejaVu Sans","Liberation Sans",sans-serif' font-size="8.3" font-weight="bold" fill="#000" xml:space="preserve"><tspan font-family='"DejaVu Serif","Liberation Serif",serif'>I</tspan>SO</text>
<text transform="translate(260.2,128) scale(1.0401,1)" font-family='"DejaVu Sans","Liberation Sans",sans-serif' font-size="8.3" font-weight="bold" fill="#000" xml:space="preserve"><tspan font-family='"DejaVu Serif","Liberation Serif",serif'>I</tspan>SO</text>
<line x1="66.4" y1="55.8" x2="73.53" y2="59.07" stroke="#000" stroke-width="1.3" />
<polygon points="80.8,62.4 71.06,62.06 74.18,55.24" fill="#000"/>
<line x1="66.4" y1="136.4" x2="73.49" y2="139.55" stroke="#000" stroke-width="1.3" />
<polygon points="80.8,142.8 71.05,142.57 74.1,135.72" fill="#000"/>
<line x1="270" y1="52.2" x2="275.28" y2="62.01" stroke="#000" stroke-width="1.7" />
<polygon points="279.3,69.5 271.19,63.07 278.41,59.19" fill="#000"/>
<line x1="270.4" y1="131.2" x2="275" y2="140.4" stroke="#000" stroke-width="1.7" />
<polygon points="278.8,148 270.88,141.34 278.22,137.67" fill="#000"/>
<line x1="147.1" y1="55.1" x2="118.62" y2="65.63" stroke="#000" stroke-width="1.35" />
<polygon points="111.4,68.3 118.21,61.62 120.91,68.94" fill="#000"/>
<line x1="154.5" y1="82.8" x2="140.01" y2="87.05" stroke="#000" stroke-width="1.35" />
<polygon points="133,89.1 139.87,83.02 142.06,90.51" fill="#000"/>
<line x1="139" y1="130.2" x2="117.5" y2="130.2" stroke="#000" stroke-width="1.35" />
<polygon points="110,130.2 118.5,126.3 118.5,134.1" fill="#000"/>
<line x1="155" y1="164.2" x2="125.8" y2="164.2" stroke="#000" stroke-width="1.35" />
<polygon points="118.3,164.2 126.8,160.3 126.8,168.1" fill="#000"/>
<line x1="380.6" y1="52.9" x2="349.47" y2="65.74" stroke="#000" stroke-width="1.6" />
<polygon points="341.8,68.9 348.8,61.47 352,69.24" fill="#000"/>
<line x1="372.5" y1="85.2" x2="358.12" y2="91.9" stroke="#000" stroke-width="1.6" />
<polygon points="350.6,95.4 357.26,87.67 360.8,95.28" fill="#000"/>
<line x1="355" y1="139" x2="323.05" y2="146.99" stroke="#000" stroke-width="1.6" />
<polygon points="315,149 323,142.67 325.04,150.82" fill="#000"/>
<line x1="349.6" y1="166.5" x2="330.65" y2="172.21" stroke="#000" stroke-width="1.6" />
<polygon points="322.7,174.6 330.39,167.9 332.82,175.94" fill="#000"/>
<rect x="145.7" y="296.75" width="24.5" height="144.55" fill="#c6c6c6" stroke="#2a2a2a" stroke-width="1.4"/>
<line x1="157.9" y1="296.75" x2="157.9" y2="293.25" stroke="#000" stroke-width="1.1" />
<line x1="154.3" y1="293.25" x2="161.5" y2="293.25" stroke="#000" stroke-width="1.1" />
<rect x="170.8" y="316.35" width="25" height="124.95" fill="#000"/>
<line x1="183.3" y1="316.35" x2="183.3" y2="313.15" stroke="#000" stroke-width="1.1" />
<line x1="179.7" y1="313.15" x2="186.9" y2="313.15" stroke="#000" stroke-width="1.1" />
<rect x="220.7" y="306.55" width="23.9" height="134.75" fill="#c6c6c6" stroke="#2a2a2a" stroke-width="1.4"/>
<line x1="232.6" y1="306.55" x2="232.6" y2="302.95" stroke="#000" stroke-width="1.1" />
<line x1="229" y1="302.95" x2="236.2" y2="302.95" stroke="#000" stroke-width="1.1" />
<rect x="245.2" y="306.31" width="25.6" height="135" fill="#000"/>
<line x1="258" y1="306.31" x2="258" y2="302.7" stroke="#000" stroke-width="1.1" />
<line x1="254.4" y1="302.7" x2="261.6" y2="302.7" stroke="#000" stroke-width="1.1" />
<rect x="296.4" y="299.2" width="23" height="142.1" fill="#c6c6c6" stroke="#2a2a2a" stroke-width="1.4"/>
<rect x="320" y="313.9" width="25.2" height="127.4" fill="#000"/>
<rect x="370.5" y="387.4" width="23.4" height="53.9" fill="#c6c6c6" stroke="#2a2a2a" stroke-width="1.4"/>
<line x1="382.15" y1="387.4" x2="382.15" y2="380.4" stroke="#000" stroke-width="1.1" />
<line x1="378.55" y1="380.4" x2="385.75" y2="380.4" stroke="#000" stroke-width="1.1" />
<rect x="394.5" y="321.25" width="26.1" height="120.05" fill="#000"/>
<line x1="407.55" y1="321.25" x2="407.55" y2="317.85" stroke="#000" stroke-width="1.1" />
<line x1="403.95" y1="317.85" x2="411.15" y2="317.85" stroke="#000" stroke-width="1.1" />
<line x1="131.9" y1="244.8" x2="131.9" y2="441.8" stroke="#3a3a3a" stroke-width="1.2" />
<line x1="131.9" y1="441.3" x2="433" y2="441.3" stroke="#3a3a3a" stroke-width="1.2" />
<line x1="128.3" y1="245.3" x2="131.9" y2="245.3" stroke="#3a3a3a" stroke-width="1" />
<text transform="translate(107.2,247.7) scale(1.0230,1)" font-family='"DejaVu Sans","Liberation Sans",sans-serif' font-size="10.6" font-weight="normal" fill="#222" xml:space="preserve">100</text>
<line x1="128.3" y1="294.3" x2="131.9" y2="294.3" stroke="#3a3a3a" stroke-width="1" />
<text transform="translate(110.9,296.7) scale(1.0086,1)" font-family='"DejaVu Sans","Liberation Sans",sans-serif' font-size="10.6" font-weight="normal" fill="#222" xml:space="preserve">90</text>
<line x1="128.3" y1="343.3" x2="131.9" y2="343.3" stroke="#3a3a3a" stroke-width="1" />
<text transform="translate(110.9,345.7) scale(1.0086,1)" font-family='"DejaVu Sans","Liberation Sans",sans-serif' font-size="10.6" font-weight="normal" fill="#222" xml:space="preserve">80</text>
<line x1="128.3" y1="392.3" x2="131.9" y2="392.3" stroke="#3a3a3a" stroke-width="1" />
<text transform="translate(110.9,394.7) scale(1.0086,1)" font-family='"DejaVu Sans","Liberation Sans",sans-serif' font-size="10.6" font-weight="normal" fill="#222" xml:space="preserve">70</text>
<line x1="128.3" y1="441.3" x2="131.9" y2="441.3" stroke="#3a3a3a" stroke-width="1" />
<text transform="translate(110.9,443.7) scale(1.0086,1)" font-family='"DejaVu Sans","Liberation Sans",sans-serif' font-size="10.6" font-weight="normal" fill="#222" xml:space="preserve">60</text>
<line x1="131.9" y1="441.3" x2="131.9" y2="445.3" stroke="#3a3a3a" stroke-width="1" />
<line x1="207.18" y1="441.3" x2="207.18" y2="445.3" stroke="#3a3a3a" stroke-width="1" />
<line x1="282.45" y1="441.3" x2="282.45" y2="445.3" stroke="#3a3a3a" stroke-width="1" />
<line x1="357.73" y1="441.3" x2="357.73" y2="445.3" stroke="#3a3a3a" stroke-width="1" />
<line x1="433" y1="441.3" x2="433" y2="445.3" stroke="#3a3a3a" stroke-width="1" />
<text transform="translate(156.9,456.4) scale(1.0473,1)" font-family='"DejaVu Sans","Liberation Sans",sans-serif' font-size="11" font-weight="bold" fill="#000" xml:space="preserve">MED</text>
<text transform="translate(231.9,456.5) scale(1.0554,1)" font-family='"DejaVu Sans","Liberation Sans",sans-serif' font-size="11" font-weight="bold" fill="#000" xml:space="preserve"><tspan font-family='"DejaVu Serif","Liberation Serif",serif'>I</tspan>FN<tspan font-family='"Liberation Serif","DejaVu Serif",serif' font-weight="normal" font-size="12.1" fill="#111">β</tspan></text>
<text transform="translate(377,457) scale(1.0411,1)" font-family='"DejaVu Sans","Liberation Sans",sans-serif' font-size="11" font-weight="bold" fill="#000" xml:space="preserve"><tspan font-family='"DejaVu Serif","Liberation Serif",serif'>I</tspan>FN<tspan font-family='"Liberation Serif","DejaVu Serif",serif' font-weight="normal" font-size="12.1" fill="#111">β</tspan></text>
<rect x="320.2" y="230.2" width="24.8" height="6" fill="#c6c6c6" stroke="#111" stroke-width="1.2"/>
<rect x="320.2" y="241.9" width="24.8" height="9.9" fill="#000"/>
<text transform="translate(350.4,235.7) scale(1.0116,1)" font-family='"DejaVu Sans","Liberation Sans",sans-serif' font-size="11" font-weight="bold" fill="#000" xml:space="preserve">wt</text>
<text transform="translate(347.6,253) scale(1.1593,1)" font-family='"DejaVu Sans","Liberation Sans",sans-serif' font-size="10.8" font-weight="bold" fill="#000" xml:space="preserve">STAT-1</text>
<text transform="translate(394.4,251.3) scale(1.3491,1)" font-family='"DejaVu Sans","Liberation Sans",sans-serif' font-size="7.5" font-weight="bold" fill="#333" xml:space="preserve">-/-</text>
<text transform="translate(381,290.5) scale(1.0703,1)" font-family='"DejaVu Sans","Liberation Sans",sans-serif' font-size="8" font-weight="bold" fill="#000" xml:space="preserve"><tspan font-style="italic">P</tspan> &lt; .01</text>
<path d="M382.9,369.2V297.9H409V306.7" fill="none" stroke="#111" stroke-width="1.3"/>
<line x1="286.5" y1="464.3" x2="435.7" y2="464.3" stroke="#1a1a1a" stroke-width="1.4" />
<text transform="translate(315.5,480.2) scale(1.0839,1)" font-family='"DejaVu Sans","Liberation Sans",sans-serif' font-size="11.3" font-weight="bold" fill="#000" xml:space="preserve">TNF-<tspan font-family='"Liberation Serif","DejaVu Serif",serif' font-weight="normal" font-size="12.43" fill="#111">α</tspan>+<tspan font-family='"DejaVu Serif","Liberation Serif",serif'>I</tspan>L-1<tspan font-family='"Liberation Serif","DejaVu Serif",serif' font-weight="normal" font-size="12.43" fill="#111">β</tspan></text>
<text transform="translate(316,494.4) scale(1.0608,1)" font-family='"DejaVu Sans","Liberation Sans",sans-serif' font-size="11.3" font-weight="bold" fill="#000" xml:space="preserve">+<tspan font-family='"DejaVu Serif","Liberation Serif",serif'>I</tspan>L-6+PGE2</text>
<text transform="translate(102,379.9) rotate(-90) scale(1.0118,1)" font-family='"DejaVu Sans","Liberation Sans",sans-serif' font-size="11.8" font-weight="bold" fill="#000">% Viability</text>
<rect x="137" y="575.75" width="24.6" height="153.65" fill="#c6c6c6" stroke="#2a2a2a" stroke-width="1.4"/>
<line x1="149.25" y1="575.75" x2="149.25" y2="573.14" stroke="#000" stroke-width="1.1" />
<line x1="145.65" y1="573.14" x2="152.85" y2="573.14" stroke="#000" stroke-width="1.1" />
<rect x="162.2" y="591.3" width="24.8" height="138.1" fill="#000"/>
<line x1="174.6" y1="591.3" x2="174.6" y2="588.4" stroke="#000" stroke-width="1.1" />
<line x1="171" y1="588.4" x2="178.2" y2="588.4" stroke="#000" stroke-width="1.1" />
<rect x="212.4" y="577.69" width="24" height="151.71" fill="#c6c6c6" stroke="#2a2a2a" stroke-width="1.4"/>
<line x1="224.35" y1="577.69" x2="224.35" y2="572.69" stroke="#000" stroke-width="1.1" />
<line x1="220.75" y1="572.69" x2="227.95" y2="572.69" stroke="#000" stroke-width="1.1" />
<rect x="237" y="593.25" width="25" height="136.15" fill="#000"/>
<rect x="287.7" y="577.69" width="23.2" height="151.71" fill="#c6c6c6" stroke="#2a2a2a" stroke-width="1.4"/>
<rect x="311.5" y="589.36" width="25.5" height="140.04" fill="#000"/>
<rect x="361.5" y="680.77" width="24.2" height="48.62" fill="#c6c6c6" stroke="#2a2a2a" stroke-width="1.4"/>
<line x1="373.55" y1="680.77" x2="373.55" y2="677.98" stroke="#000" stroke-width="1.1" />
<line x1="369.95" y1="677.98" x2="377.15" y2="677.98" stroke="#000" stroke-width="1.1" />
<rect x="386.3" y="602.39" width="25.5" height="127.01" fill="#000"/>
<line x1="399.05" y1="602.39" x2="399.05" y2="599.39" stroke="#000" stroke-width="1.1" />
<line x1="395.45" y1="599.39" x2="402.65" y2="599.39" stroke="#000" stroke-width="1.1" />
<line x1="123.2" y1="534.4" x2="123.2" y2="729.9" stroke="#3a3a3a" stroke-width="1.2" />
<line x1="123.2" y1="729.4" x2="425" y2="729.4" stroke="#3a3a3a" stroke-width="1.2" />
<line x1="119.6" y1="534.9" x2="123.2" y2="534.9" stroke="#3a3a3a" stroke-width="1" />
<text transform="translate(99,539.5) scale(1.0477,1)" font-family='"DejaVu Sans","Liberation Sans",sans-serif' font-size="10.6" font-weight="normal" fill="#222" xml:space="preserve">100</text>
<line x1="119.6" y1="573.8" x2="123.2" y2="573.8" stroke="#3a3a3a" stroke-width="1" />
<text transform="translate(104,578.4) scale(1.0308,1)" font-family='"DejaVu Sans","Liberation Sans",sans-serif' font-size="10.6" font-weight="normal" fill="#222" xml:space="preserve">90</text>
<line x1="119.6" y1="612.7" x2="123.2" y2="612.7" stroke="#3a3a3a" stroke-width="1" />
<text transform="translate(104,617.3) scale(1.0308,1)" font-family='"DejaVu Sans","Liberation Sans",sans-serif' font-size="10.6" font-weight="normal" fill="#222" xml:space="preserve">80</text>
<line x1="119.6" y1="651.6" x2="123.2" y2="651.6" stroke="#3a3a3a" stroke-width="1" />
<text transform="translate(104,656.2) scale(1.0308,1)" font-family='"DejaVu Sans","Liberation Sans",sans-serif' font-size="10.6" font-weight="normal" fill="#222" xml:space="preserve">70</text>
<line x1="119.6" y1="690.5" x2="123.2" y2="690.5" stroke="#3a3a3a" stroke-width="1" />
<text transform="translate(104,695.1) scale(1.0308,1)" font-family='"DejaVu Sans","Liberation Sans",sans-serif' font-size="10.6" font-weight="normal" fill="#222" xml:space="preserve">60</text>
<line x1="119.6" y1="729.4" x2="123.2" y2="729.4" stroke="#3a3a3a" stroke-width="1" />
<text transform="translate(104,734) scale(1.0308,1)" font-family='"DejaVu Sans","Liberation Sans",sans-serif' font-size="10.6" font-weight="normal" fill="#222" xml:space="preserve">50</text>
<line x1="123.2" y1="729.4" x2="123.2" y2="733.4" stroke="#3a3a3a" stroke-width="1" />
<line x1="198.65" y1="729.4" x2="198.65" y2="733.4" stroke="#3a3a3a" stroke-width="1" />
<line x1="274.1" y1="729.4" x2="274.1" y2="733.4" stroke="#3a3a3a" stroke-width="1" />
<line x1="349.55" y1="729.4" x2="349.55" y2="733.4" stroke="#3a3a3a" stroke-width="1" />
<line x1="425" y1="729.4" x2="425" y2="733.4" stroke="#3a3a3a" stroke-width="1" />
<text transform="translate(146.5,746) scale(1.0510,1)" font-family='"DejaVu Sans","Liberation Sans",sans-serif' font-size="11" font-weight="bold" fill="#000" xml:space="preserve">MED</text>
<text transform="translate(217,744.6) scale(1.0826,1)" font-family='"DejaVu Sans","Liberation Sans",sans-serif' font-size="11" font-weight="bold" fill="#000" xml:space="preserve"><tspan font-family='"DejaVu Serif","Liberation Serif",serif'>I</tspan>FN<tspan font-family='"Liberation Serif","DejaVu Serif",serif' font-weight="normal" font-size="12.1" fill="#111">γ</tspan></text>
<text transform="translate(370,744.6) scale(1.0716,1)" font-family='"DejaVu Sans","Liberation Sans",sans-serif' font-size="11" font-weight="bold" fill="#000" xml:space="preserve"><tspan font-family='"DejaVu Serif","Liberation Serif",serif'>I</tspan>FN<tspan font-family='"Liberation Serif","DejaVu Serif",serif' font-weight="normal" font-size="12.1" fill="#111">γ</tspan></text>
<rect x="328.6" y="530.2" width="24.9" height="6.3" fill="#c6c6c6" stroke="#111" stroke-width="1.2"/>
<rect x="328.6" y="541.9" width="24.9" height="11.1" fill="#000"/>
<text transform="translate(359.2,535.7) scale(1.0180,1)" font-family='"DejaVu Sans","Liberation Sans",sans-serif' font-size="11" font-weight="bold" fill="#000" xml:space="preserve">wt</text>
<text transform="translate(356.5,553) scale(1.1593,1)" font-family='"DejaVu Sans","Liberation Sans",sans-serif' font-size="10.8" font-weight="bold" fill="#000" xml:space="preserve">STAT-1</text>
<text transform="translate(403.5,551.3) scale(1.3714,1)" font-family='"DejaVu Sans","Liberation Sans",sans-serif' font-size="7.5" font-weight="bold" fill="#333" xml:space="preserve">-/-</text>
<text transform="translate(367.3,573.1) scale(1.0703,1)" font-family='"DejaVu Sans","Liberation Sans",sans-serif' font-size="8" font-weight="bold" fill="#000" xml:space="preserve"><tspan font-style="italic">P</tspan> &lt; .01</text>
<path d="M372.5,660V581.5H398.6V589.2" fill="none" stroke="#111" stroke-width="1.3"/>
<line x1="275.4" y1="752" x2="425.4" y2="752" stroke="#1a1a1a" stroke-width="1.4" />
<text transform="translate(305.6,767.5) scale(1.0760,1)" font-family='"DejaVu Sans","Liberation Sans",sans-serif' font-size="11.3" font-weight="bold" fill="#000" xml:space="preserve">TNF-<tspan font-family='"Liberation Serif","DejaVu Serif",serif' font-weight="normal" font-size="12.43" fill="#111">α</tspan>+<tspan font-family='"DejaVu Serif","Liberation Serif",serif'>I</tspan>L-1<tspan font-family='"Liberation Serif","DejaVu Serif",serif' font-weight="normal" font-size="12.43" fill="#111">β</tspan></text>
<text transform="translate(306,781.8) scale(1.0543,1)" font-family='"DejaVu Sans","Liberation Sans",sans-serif' font-size="11.3" font-weight="bold" fill="#000" xml:space="preserve">+<tspan font-family='"DejaVu Serif","Liberation Serif",serif'>I</tspan>L-6+PGE2</text>
<text transform="translate(93.9,660.6) rotate(-90) scale(0.9948,1)" font-family='"DejaVu Sans","Liberation Sans",sans-serif' font-size="11.8" font-weight="bold" fill="#000">% Viability</text>
</svg></body></html>
